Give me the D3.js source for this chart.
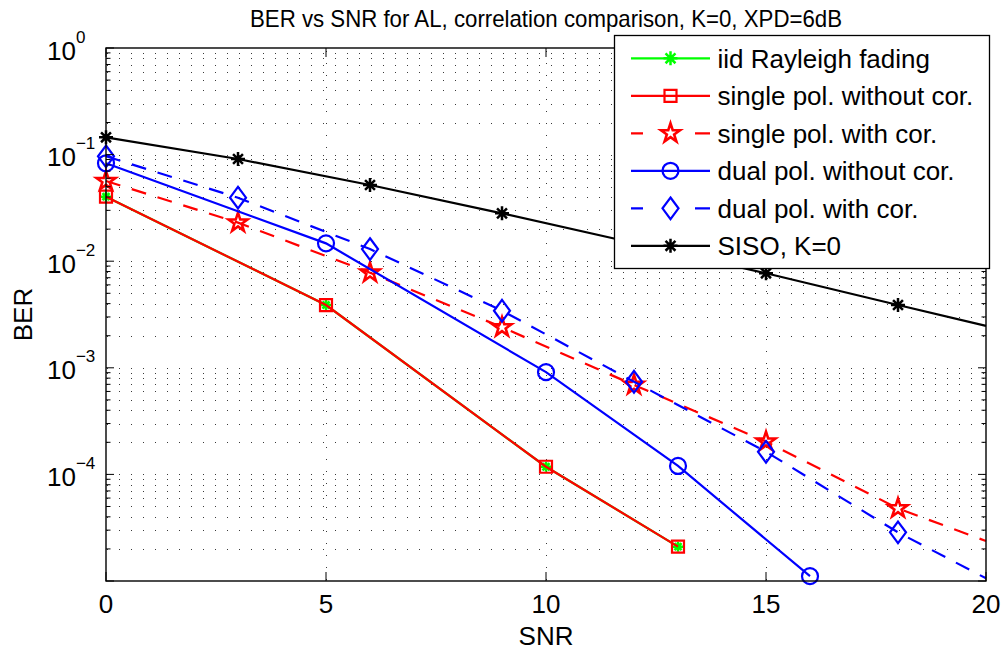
<!DOCTYPE html>
<html><head><meta charset="utf-8">
<script src="https://cdn.jsdelivr.net/npm/d3@7"></script>
<style>
body{margin:0;background:#fff}
svg{display:block}
text{font-family:"Liberation Sans",Arial,Helvetica,sans-serif;fill:#000}
</style>
</head><body>
<svg id="chart" width="1004" height="653"></svg>
<script>
// ---- data ----
const snrIid = [0, 5, 10, 13];
const berIid = [0.0403, 0.00388, 1.18e-4, 2.1e-5];
const snrSingleNoCor = [0, 5, 10, 13];
const berSingleNoCor = [0.0403, 0.00388, 1.18e-4, 2.1e-5];
const snrSingleCor = [0, 3, 6, 9, 12, 15, 18, 20];
const berSingleCor = [0.0565, 0.0230, 0.0078, 0.0024, 6.9e-4, 2.03e-4, 4.8e-5, 2.37e-5];
const snrDualNoCor = [0, 5, 10, 13, 16];
const berDualNoCor = [0.0829, 0.0147, 9.1e-4, 1.2e-4, 1.11e-5];
const snrDualCor = [0, 3, 6, 9, 12, 15, 18, 20];
const berDualCor = [0.0964, 0.0394, 0.0130, 0.00343, 7.4e-4, 1.63e-4, 2.86e-5, 1.06e-5];
const snrSiso = [0, 3, 6, 9, 12, 15, 18, 20];
const berSiso = [0.1453, 0.0910, 0.0519, 0.0281, 0.0148, 0.0077, 0.00388, 0.00247];
// SNR values that carry a marker
const markIid = [0, 5, 10, 13];
const markSingleNoCor = [0, 5, 10, 13];
const markSingleCor = [0, 3, 6, 9, 12, 15, 18];
const markDualNoCor = [0, 5, 10, 13, 16];
const markDualCor = [0, 3, 6, 9, 12, 15, 18];
const markSiso = [0, 3, 6, 9, 12, 15, 18];
const seriesNames = ["iid Rayleigh fading", "single pol. without cor.", "single pol. with cor.",
  "dual pol. without cor.", "dual pol. with cor.", "SISO, K=0"];
const xTicks = [0, 5, 10, 15, 20];
const yTickExps = [0, -1, -2, -3, -4];
const titleText = "BER vs SNR for AL, correlation comparison, K=0, XPD=6dB";
const xLabel = "SNR";
const yLabel = "BER";

// ---- layout / style ----
const L = 106, R = 986, T = 48, B = 581;
const svg = d3.select("#chart");
const x = d3.scaleLinear().domain([0, 20]).range([L, R]);
const y = d3.scaleLog().domain([1e-5, 1]).range([B, T]);

const series = [
  {name: seriesNames[0], snr: snrIid, ber: berIid, mark: markIid, color: "#00ff00", dash: null, marker: "asterisk", msize: 5},
  {name: seriesNames[1], snr: snrSingleNoCor, ber: berSingleNoCor, mark: markSingleNoCor, color: "#ff0000", dash: null, marker: "square", msize: 6},
  {name: seriesNames[2], snr: snrSingleCor, ber: berSingleCor, mark: markSingleCor, color: "#ff0000", dash: "15,12", marker: "pentagram", msize: 10},
  {name: seriesNames[3], snr: snrDualNoCor, ber: berDualNoCor, mark: markDualNoCor, color: "#0000ff", dash: null, marker: "circle", msize: 8},
  {name: seriesNames[4], snr: snrDualCor, ber: berDualCor, mark: markDualCor, color: "#0000ff", dash: "15,12", marker: "diamond", msize: 8},
  {name: seriesNames[5], snr: snrSiso, ber: berSiso, mark: markSiso, color: "#000000", dash: null, marker: "asterisk", msize: 7}
];

function markerPath(type, s) {
  const p = d3.path();
  if (type === "square") { p.rect(-s, -s, 2 * s, 2 * s); }
  else if (type === "circle") { p.arc(0, 0, s, 0, 2 * Math.PI); p.closePath(); }
  else if (type === "diamond") { const h = s * 1.35; p.moveTo(0, -h); p.lineTo(s, 0); p.lineTo(0, h); p.lineTo(-s, 0); p.closePath(); }
  else if (type === "pentagram") {
    const r2 = s * 0.382;
    for (let i = 0; i < 10; i++) {
      const r = i % 2 ? r2 : s;
      const a = -Math.PI / 2 + i * Math.PI / 5;
      const px = r * Math.cos(a), py = r * Math.sin(a);
      if (i === 0) p.moveTo(px, py); else p.lineTo(px, py);
    }
    p.closePath();
  } else if (type === "asterisk") {
    const d = s * 0.7071;
    p.moveTo(-s, 0); p.lineTo(s, 0);
    p.moveTo(0, -s); p.lineTo(0, s);
    p.moveTo(-d, -d); p.lineTo(d, d);
    p.moveTo(-d, d); p.lineTo(d, -d);
  }
  return p.toString();
}
function markerWidth(type) { return type === "pentagram" ? 2.6 : (type === "asterisk" ? 2.5 : 2.2); }

// ---- grid ----
const grid = svg.append("g").attr("stroke", "#3a3a3a").attr("stroke-width", 1).attr("stroke-dasharray", "1,11").attr("fill", "none");
const yGridVals = [];
for (let e = -5; e < 0; e++) for (let m = 1; m <= 9; m++) { const v = m * Math.pow(10, e); if (v > 1e-5) yGridVals.push(v); }
grid.selectAll("line.h").data(yGridVals).join("line")
  .attr("x1", L + 1).attr("x2", R).attr("y1", d => Math.round(y(d)) + 0.5).attr("y2", d => Math.round(y(d)) + 0.5);
grid.selectAll("line.v").data(xTicks.filter(t => t > 0 && t < 20)).join("line")
  .attr("x1", d => Math.round(x(d)) + 0.5).attr("x2", d => Math.round(x(d)) + 0.5).attr("y1", B - 1).attr("y2", T + 1);

// ---- lines and markers ----
const line = d3.line().x(d => x(d[0])).y(d => y(d[1]));
series.forEach(s => {
  const pts = s.snr.map((v, i) => [v, s.ber[i]]);
  svg.append("path").datum(pts).attr("d", line).attr("fill", "none")
    .attr("stroke", s.color).attr("stroke-width", 2.2).attr("stroke-dasharray", s.dash);
  const mpts = pts.filter(p => s.mark.includes(p[0]));
  svg.append("g").selectAll("path").data(mpts).join("path")
    .attr("transform", d => `translate(${x(d[0])},${y(d[1])})`)
    .attr("d", markerPath(s.marker, s.msize))
    .attr("fill", "none").attr("stroke", s.color).attr("stroke-width", markerWidth(s.marker));
});

// ---- axes box & ticks ----
const ax = svg.append("g").attr("stroke", "#000").attr("fill", "none");
ax.append("rect").attr("x", L).attr("y", T).attr("width", R - L).attr("height", B - T).attr("stroke-width", 1.4);
const yMajor = yTickExps.map(e => Math.pow(10, e)).concat([1e-5]);
const yMinor = yGridVals.filter(v => !yMajor.some(m => Math.abs(m - v) / m < 1e-6));
ax.selectAll("line.ym").data(yMajor).join("line").attr("stroke-width", 1)
  .attr("x1", L).attr("x2", L + 8).attr("y1", d => y(d)).attr("y2", d => y(d));
ax.selectAll("line.ymr").data(yMajor).join("line").attr("stroke-width", 1)
  .attr("x1", R).attr("x2", R - 8).attr("y1", d => y(d)).attr("y2", d => y(d));
ax.selectAll("line.yn").data(yMinor).join("line").attr("stroke-width", 1)
  .attr("x1", L).attr("x2", L + 4.5).attr("y1", d => y(d)).attr("y2", d => y(d));
ax.selectAll("line.ynr").data(yMinor).join("line").attr("stroke-width", 1)
  .attr("x1", R).attr("x2", R - 4.5).attr("y1", d => y(d)).attr("y2", d => y(d));
ax.selectAll("line.xb").data(xTicks).join("line").attr("stroke-width", 1)
  .attr("x1", d => x(d)).attr("x2", d => x(d)).attr("y1", B).attr("y2", B - 9);
ax.selectAll("line.xt").data(xTicks).join("line").attr("stroke-width", 1)
  .attr("x1", d => x(d)).attr("x2", d => x(d)).attr("y1", T).attr("y2", T + 9);

// tick labels
svg.append("g").selectAll("text").data(xTicks).join("text")
  .attr("x", d => x(d)).attr("y", B + 32).attr("text-anchor", "middle")
  .style("font-size", "26px").text(d => d);
const yl = svg.append("g").selectAll("text").data(yTickExps).join("text")
  .attr("x", 47).attr("y", d => y(Math.pow(10, d)) + 11.5).style("font-size", "26px");
yl.append("tspan").text("10");
yl.append("tspan").attr("dy", -17).style("font-size", "17px").text(d => d === 0 ? "0" : "\u2212" + (-d));

// axis labels & title
svg.append("text").attr("x", (L + R) / 2).attr("y", 645).attr("text-anchor", "middle").style("font-size", "26px").text(xLabel);
svg.append("text").attr("transform", `translate(31.5,${(T + B) / 2}) rotate(-90)`).attr("text-anchor", "middle").style("font-size", "26px").text(yLabel);
svg.append("text").attr("x", 546).attr("y", 27).attr("text-anchor", "middle").style("font-size", "24px")
  .attr("textLength", 592).attr("lengthAdjust", "spacingAndGlyphs").text(titleText);

// ---- legend ----
const lg = svg.append("g");
lg.append("rect").attr("x", 614.5).attr("y", 35.5).attr("width", 375).attr("height", 233)
  .attr("fill", "#fff").attr("stroke", "#000").attr("stroke-width", 1.3);
series.forEach((s, i) => {
  const cy = 58.3 + i * 37.5;
  lg.append("line").attr("x1", 631).attr("x2", 710).attr("y1", cy).attr("y2", cy)
    .attr("stroke", s.color).attr("stroke-width", 2.2).attr("stroke-dasharray", s.dash ? "12,52,15" : null);
  lg.append("path").attr("transform", `translate(670.5,${cy})`)
    .attr("d", markerPath(s.marker, s.marker === "asterisk" ? 7 : s.msize))
    .attr("fill", "none").attr("stroke", s.color).attr("stroke-width", markerWidth(s.marker));
  lg.append("text").attr("x", 717.5).attr("y", cy + 9.5).style("font-size", "26px").text(s.name);
});
</script>
</body></html>
